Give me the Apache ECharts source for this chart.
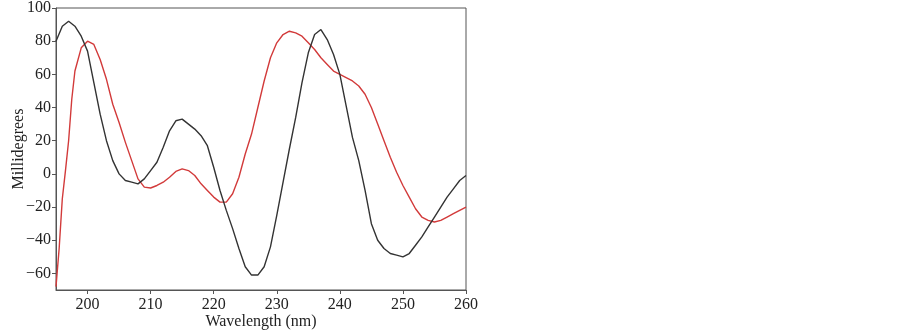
<!DOCTYPE html>
<html>
<head>
<meta charset="utf-8">
<script src="https://cdn.jsdelivr.net/npm/echarts@6/dist/echarts.min.js"></script>
<style>
html,body{margin:0;padding:0;background:#fff;}
#chart{width:903px;height:336px;}
</style>
</head>
<body>
<div id="chart"></div>
<script>
// wavelength (nm) for the black trace, 1 nm steps
var blackX = [195,196,197,198,199,200,201,202,203,204,205,206,207,208,209,210,
    211,212,213,214,215,216,217,218,219,220,221,222,223,224,225,226,227,228,229,230,
    231,232,233,234,235,236,237,238,239,240,241,242,243,244,245,246,247,248,249,250,
    251,252,253,254,255,256,257,258,259,260];
var blackY = [80,89,92,89,83,74,55,36,20,8,0,-4,-5,-6,-3,2,
    7,16,26,32,33,30,27,23,17,4,-10,-22,-33,-45,-56,-61,-61,-56,-44,-25,
    -5,15,34,55,73,84,87,81,72,60,41,22,8,-10,-30,-40,-45,-48,-49,-50,
    -48,-43,-38,-32,-26,-20,-14,-9,-4,-1];

// red trace, denser at the steep start
var redX = [195,195.5,196,196.5,197,197.5,198,199,200,201,202,203,204,205,206,207,208,209,210,
    211,212,213,214,215,216,217,218,219,220,221,222,223,224,225,226,227,228,229,230,
    231,232,233,234,235,236,237,238,239,240,241,242,243,244,245,246,247,248,249,250,
    251,252,253,254,255,256,257,258,259,260];
var redY = [-68,-45,-15,2,20,45,62,76,80,78,69,57,42,31,19,8,-3,-8,-8.5,
    -7,-5,-2,1.5,3,2,-1,-6,-10,-14,-17,-17,-12,-2,12,24,40,56,70,79,
    84,86,85,83,79,75,70,66,62,60,58,56,53,48,40,30,20,10,1,-7,
    -14,-21,-26,-28,-29,-28,-26,-24,-22,-20];

var xTicks = [200,210,220,230,240,250,260];
var yTicks = [-60,-40,-20,0,20,40,60,80,100];

function pairs(xs, ys) {
    var out = [];
    for (var i = 0; i < xs.length; i++) out.push([xs[i], ys[i]]);
    return out;
}

var font = 'Liberation Serif';
var myChart = echarts.init(document.getElementById('chart'));
var option = {
    animation: false,
    grid: {
        left: 56, top: 8, right: 437, bottom: 46,
        outerBoundsMode: 'none',
        containLabel: false,
        show: true, borderColor: '#555', borderWidth: 1
    },
    xAxis: {
        type: 'value',
        min: 195, max: 260,
        name: 'Wavelength (nm)',
        nameLocation: 'middle',
        nameGap: 24,
        nameMoveOverlap: false,
        nameTextStyle: {fontFamily: font, fontSize: 16, color: '#222'},
        axisLine: {onZero: false, lineStyle: {color: '#555', width: 1}},
        axisTick: {show: true, length: 4, customValues: xTicks, lineStyle: {color: '#555'}},
        axisLabel: {customValues: xTicks, fontFamily: font, fontSize: 16, color: '#222', margin: 7},
        splitLine: {show: false}
    },
    yAxis: {
        type: 'value',
        min: -70, max: 100,
        name: 'Millidegrees',
        nameLocation: 'middle',
        nameGap: 29,
        nameMoveOverlap: false,
        nameTextStyle: {fontFamily: font, fontSize: 16, color: '#222'},
        axisLine: {show: true, onZero: false, lineStyle: {color: '#555', width: 1}},
        axisTick: {show: true, length: 4, customValues: yTicks, lineStyle: {color: '#555'}},
        axisLabel: {
            customValues: yTicks, fontFamily: font, fontSize: 16, color: '#222', margin: 5,
            formatter: function (v) { return String(v).replace('-', '\u2212'); }
        },
        splitLine: {show: false}
    },
    series: [
        {
            type: 'line',
            data: pairs(blackX, blackY),
            showSymbol: false,
            lineStyle: {color: '#333', width: 1.4},
            z: 3
        },
        {
            type: 'line',
            data: pairs(redX, redY),
            showSymbol: false,
            lineStyle: {color: '#d23a3a', width: 1.4},
            z: 2
        }
    ]
};
myChart.setOption(option, true);
</script>
</body>
</html>
